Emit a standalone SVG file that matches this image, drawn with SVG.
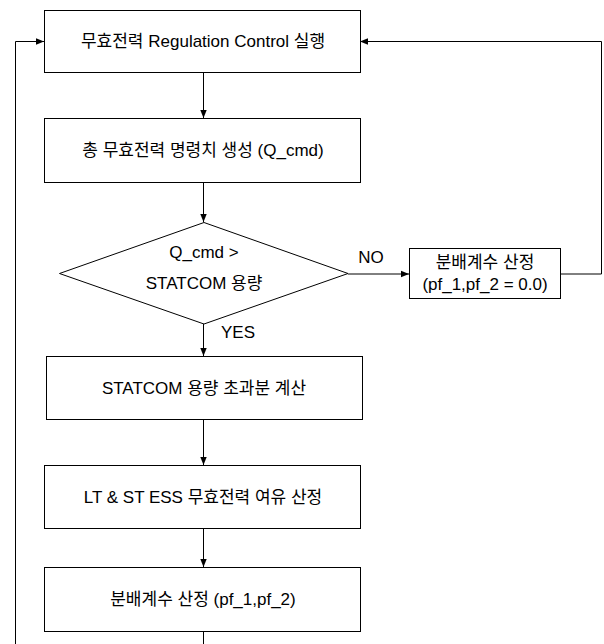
<svg xmlns="http://www.w3.org/2000/svg" width="604" height="644" viewBox="0 0 604 644">
<defs>
<marker id="ah" viewBox="0 0 10 10" refX="10" refY="5" markerWidth="8" markerHeight="8" markerUnits="userSpaceOnUse" orient="auto">
<path d="M0,1 L10,5 L0,9 Z" fill="#000"/>
</marker>
</defs>
<style>
.box{fill:#fff;stroke:#000;stroke-width:1}
.t{font-family:"Liberation Sans","Noto Sans CJK KR",sans-serif;font-size:17px;fill:#000;text-anchor:middle}
.c{fill:none;stroke:#000;stroke-width:1;marker-end:url(#ah)}
</style>
<rect width="604" height="644" fill="#fff"/>
<g id="connectors">
<path class="c" d="M203.5,72 V118"/>
<path class="c" d="M203.5,182 V222"/>
<path class="c" d="M203.5,324 V356"/>
<path class="c" d="M203.5,419 V465"/>
<path class="c" d="M203.5,528 V567"/>
<path class="c" d="M348,274 H409"/>
<path class="c" d="M560,274 H601.5 V41.5 H360"/>
<path class="c" d="M203.5,631 V644 M15.5,644 V41.5 H44"/>
<text class="t" x="371" y="263">NO</text>
<text class="t" x="238" y="338">YES</text>
</g>
<g id="n1"><rect class="box" x="44.5" y="10.5" width="316" height="62"/><text class="t" x="203" y="47">무효전력 Regulation Control 실행</text></g>
<g id="n2"><rect class="box" x="44.5" y="118.5" width="316" height="64"/><text class="t" x="203" y="156">총 무효전력 명령치 생성 (Q_cmd)</text></g>
<g id="n3"><path class="box" d="M204,222.5 L348,273.5 L204,324 L59.5,273.5 Z"/><text class="t" x="204" y="258">Q_cmd &gt;</text><text class="t" x="204" y="289">STATCOM 용량</text></g>
<g id="n4"><rect class="box" x="409.5" y="248.5" width="151" height="50"/><text class="t" x="485" y="268">분배계수 산정</text><text class="t" x="485" y="290">(pf_1,pf_2 = 0.0)</text></g>
<g id="n5"><rect class="box" x="46.5" y="356.5" width="316" height="63"/><text class="t" x="204" y="394">STATCOM 용량 초과분 계산</text></g>
<g id="n6"><rect class="box" x="44.5" y="465.5" width="316" height="63"/><text class="t" x="203" y="503">LT &amp; ST ESS 무효전력 여유 산정</text></g>
<g id="n7"><rect class="box" x="44.5" y="567.5" width="316" height="64"/><text class="t" x="203" y="605">분배계수 산정 (pf_1,pf_2)</text></g>
</svg>
